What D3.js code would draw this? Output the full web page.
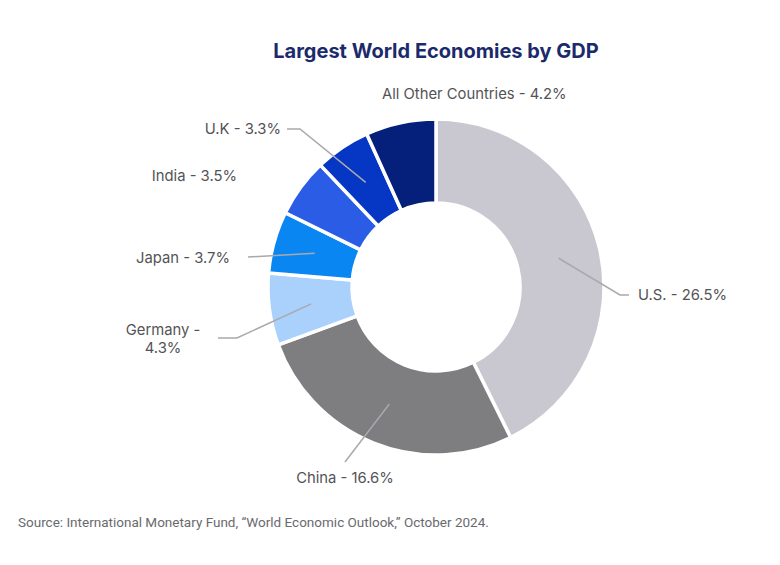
<!DOCTYPE html>
<html>
<head>
<meta charset="utf-8">
<script src="https://cdn.jsdelivr.net/npm/d3@7"></script>
<style>
  html, body { margin: 0; padding: 0; background: #fff; }
  svg { display: block; }
</style>
</head>
<body>
<svg id="chart" width="780" height="565"></svg>
<script>
// ---- data ----
const countries = ["U.S.", "China", "Germany", "Japan", "India", "U.K", "All Other Countries"];
const gdpShare = [26.5, 16.6, 4.3, 3.7, 3.5, 3.3, 4.2];
const sliceColors = ["#c9c8d0", "#7e7e81", "#a9d1fc", "#0a86f2", "#2b5ce6", "#0637c4", "#04207a"];
const titleText = "Largest World Economies by GDP";
const sourceText = "Source: International Monetary Fund, \u201cWorld Economic Outlook,\u201d October 2024.";

// ---- label layout (offsets from chart centre) ----
const labelLayout = [
  { line: [[184, 8], [193, 8]], text: [202, 8], anchor: "start" },
  { line: [[-91, 175]], text: [-91, 191], anchor: "middle" },
  { line: [[-199, 51], [-218, 51]], text: [-273, 43], anchor: "middle", split: true },
  { line: [[-188, -30]], text: [-206, -29], anchor: "end" },
  { line: null, text: [-199, -111], anchor: "end" },
  { line: [[-136, -158], [-149, -158]], text: [-155, -158], anchor: "end" },
  { line: null, text: [-54, -193], anchor: "start" }
];

const svg = d3.select("#chart");
const cx = 436, cy = 287;
const outerR = 168, innerR = 84;

const data = countries.map((c, i) => ({ name: c, value: gdpShare[i], color: sliceColors[i], layout: labelLayout[i] }));

const pie = d3.pie().sort(null).value(d => d.value);
const arc = d3.arc().innerRadius(innerR).outerRadius(outerR);
const arcs = pie(data);

const g = svg.append("g").attr("transform", `translate(${cx},${cy})`);

g.selectAll("path.slice")
  .data(arcs)
  .join("path")
  .attr("class", "slice")
  .attr("d", arc)
  .attr("fill", d => d.data.color)
  .attr("stroke", "#fff")
  .attr("stroke-width", 3.5)
  .attr("stroke-linejoin", "miter");

// leader lines
const lineGen = d3.line();
g.selectAll("path.leader")
  .data(arcs.filter(d => d.data.layout.line))
  .join("path")
  .attr("class", "leader")
  .attr("d", d => lineGen([arc.centroid(d), ...d.data.layout.line]))
  .attr("fill", "none")
  .attr("stroke", "#a9a9ad")
  .attr("stroke-width", 1.5);

// labels
const font = "Inter, 'Noto Sans', sans-serif";
arcs.forEach(d => {
  const L = d.data.layout;
  const t = g.append("text")
    .attr("x", L.text[0])
    .attr("y", L.text[1])
    .attr("text-anchor", L.anchor)
    .attr("dominant-baseline", "central")
    .attr("font-family", font)
    .attr("font-size", 14.8)
    .attr("fill", "#535356");
  if (L.split) {
    t.append("tspan").attr("x", L.text[0]).attr("dy", 0).text(`${d.data.name} -`);
    t.append("tspan").attr("x", L.text[0]).attr("dy", 18).text(`${d.data.value}%`);
  } else {
    t.text(`${d.data.name} - ${d.data.value}%`);
  }
});

// title
svg.append("text")
  .attr("x", cx)
  .attr("y", 51)
  .attr("text-anchor", "middle")
  .attr("dominant-baseline", "central")
  .attr("font-family", font)
  .attr("font-weight", 700)
  .attr("font-size", 20)
  .attr("fill", "#1b2a6b")
  .text(titleText);

// source
svg.append("text")
  .attr("x", 18)
  .attr("y", 522)
  .attr("dominant-baseline", "central")
  .attr("font-family", "Roboto, sans-serif")
  .attr("font-size", 13.5)
  .attr("fill", "#6a6a6e")
  .text(sourceText);
</script>
</body>
</html>
